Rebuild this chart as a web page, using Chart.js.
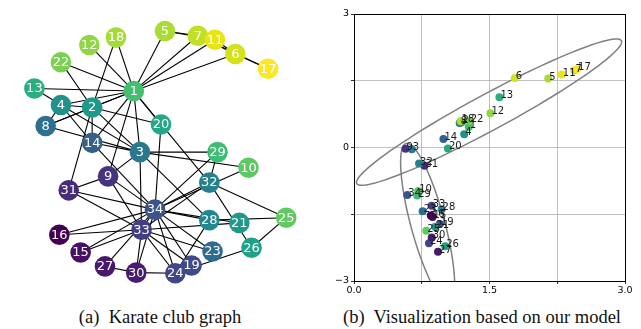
<!DOCTYPE html>
<html>
<head>
<meta charset="utf-8">
<script src="https://cdn.jsdelivr.net/npm/chart.js@4.4.0/dist/chart.umd.min.js"></script>
<style>
  body { margin: 0; background: #fff; }
  #page { position: relative; width: 641px; height: 329px; overflow: hidden; }
  .box { position: absolute; top: 0; height: 300px; }
  .caption { position: absolute; top: 307px; font-family: "Liberation Serif", "DejaVu Serif", serif; font-size: 18.5px; color: #111; text-align: center; white-space: pre; }
</style>
</head>
<body>
<div id="page">
  <div class="box" style="left:0;width:330px"><canvas id="graphe" width="330" height="300"></canvas></div>
  <div class="box" style="left:330px;width:311px"><canvas id="visu" width="311" height="300"></canvas></div>
  <div class="caption" style="left:0;width:320px">(a)  Karate club graph</div>
  <div class="caption" style="left:322px;width:320px">(b)  Visualization based on our model</div>
</div>
<script>
// noeuds 1..34
const nodes = Array.from({length: 34}, (_, i) => String(i + 1));

// positions du dessin du graphe (unites du layout, y vers le bas)
const layoutX = [131.7, 87.3, 138.3, 54, 165, 240, 200, 37.7, 104.3, 254,
  218.3, 84.3, 25.7, 87.3, 75, 52.3, 275, 112.7, 193.3, 160.7,
  244.3, 54, 215.7, 176, 294.3, 257.3, 101, 212.3, 221, 134.3,
  62.3, 212.3, 140, 154.3];
const layoutY = [86.7, 104.3, 152.3, 101.7, 22.3, 47, 27.3, 124.3, 178.3, 169,
  31.7, 37.3, 84, 142.3, 260, 241, 62.7, 29.3, 274, 122.7,
  228.3, 55.7, 259, 282.3, 222.7, 255, 275, 225.3, 152.3, 281.7,
  193.3, 185, 235.7, 214];

// plongement 2D (panneau b)
const embX = [1.27, 1.19, 0.64, 1.22, 2.15, 1.78, 2.44, 1.17, 0.57, 0.71,
  2.30, 1.51, 1.61, 0.99, 0.87, 0.85, 2.47, 1.18, 0.95, 1.04,
  0.90, 1.28, 0.76, 0.83, 0.80, 1.01, 0.93, 0.97, 0.70, 0.86,
  0.78, 0.72, 0.86, 0.59];
const embY = [0.46, 0.57, -0.04, 0.30, 1.55, 1.56, 1.73, 0.55, -0.03, -0.98,
  1.64, 0.77, 1.13, 0.19, -1.56, -1.53, 1.76, 0.59, -1.72, -0.02,
  -1.78, 0.60, -1.43, -2.15, -1.87, -2.22, -2.34, -1.39, -1.08, -2.02,
  -0.41, -0.36, -1.31, -1.07];

const nodeColors = ['#44bf70', '#1f9a8a', '#2a788e', '#21918c', '#addc30', '#d2e21b', '#c0df25', '#2d708e', '#46337f', '#5ec962',
  '#e7e419', '#90d743', '#29af7f', '#355f8d', '#471063', '#440154', '#fde725', '#a5db36', '#3f4a8a', '#22a884',
  '#1f9a8a', '#7ad151', '#2f6b8e', '#404688', '#60ca60', '#1fa187', '#48186a', '#24868e', '#3dbc74', '#481d6f',
  '#472c7a', '#26818e', '#423f85', '#3b528b'];

// aretes du club de karate
const edges = [[1,2],[1,3],[1,4],[1,5],[1,6],[1,7],[1,8],[1,9],[1,11],[1,12],[1,13],[1,14],[1,18],[1,20],[1,22],[1,32],
  [2,3],[2,4],[2,8],[2,14],[2,18],[2,20],[2,22],[2,31],
  [3,4],[3,8],[3,9],[3,10],[3,14],[3,28],[3,29],[3,33],
  [4,8],[4,13],[4,14],[5,7],[5,11],[6,7],[6,11],[6,17],[7,17],
  [9,31],[9,33],[9,34],[10,34],[14,34],[15,33],[15,34],[16,33],[16,34],
  [19,33],[19,34],[20,34],[21,33],[21,34],[23,33],[23,34],
  [24,26],[24,28],[24,30],[24,33],[24,34],[25,26],[25,28],[25,32],[26,32],
  [27,30],[27,34],[28,34],[29,32],[29,34],[30,33],[30,34],[31,33],[31,34],[32,33],[32,34],[33,34]];

// ellipses (centre, demi-axes en unites des donnees)
const ellipseCenters = [[1.495, 0.795], [0.815, -1.704]];
const ellipseMajor = [[1.465, 1.605], [0.238, -1.795]];
const ellipseMinor = [[0.0946, -0.3546], [0.181, 0.0985]];

const xTicks = ['0.0', '1.5', '3.0'];
const yTicks = ['\u22123', '0', '3'];

const aretes = {
  id: 'aretes',
  beforeDatasetsDraw(chart) {
    const {ctx, scales: {x, y}} = chart;
    ctx.save();
    ctx.strokeStyle = '#000';
    ctx.lineWidth = 1.1;
    edges.forEach(([a, b]) => {
      ctx.beginPath();
      ctx.moveTo(x.getPixelForValue(layoutX[a - 1]), y.getPixelForValue(layoutY[a - 1]));
      ctx.lineTo(x.getPixelForValue(layoutX[b - 1]), y.getPixelForValue(layoutY[b - 1]));
      ctx.stroke();
    });
    ctx.restore();
  },
  afterDatasetsDraw(chart) {
    const ctx = chart.ctx;
    const meta = chart.getDatasetMeta(0);
    ctx.save();
    ctx.fillStyle = '#fff';
    ctx.font = '13px "DejaVu Sans"';
    ctx.textAlign = 'center';
    ctx.textBaseline = 'middle';
    meta.data.forEach((pt, i) => ctx.fillText(nodes[i], pt.x, pt.y + 0.5));
    ctx.restore();
  }
};

new Chart('graphe', {
  type: 'scatter',
  data: {
    datasets: [{
      data: nodes.map((n, i) => ({x: layoutX[i], y: layoutY[i]})),
      backgroundColor: nodeColors,
      pointRadius: 10.3,
      pointHoverRadius: 10.3,
      borderWidth: 0,
      clip: false
    }]
  },
  options: {
    responsive: false,
    animation: false,
    events: [],
    layout: {padding: 0},
    plugins: {legend: {display: false}, tooltip: {enabled: false}},
    scales: {
      x: {display: false, min: 0, max: 330},
      y: {display: false, min: 0, max: 300, reverse: true}
    }
  },
  plugins: [aretes]
});

const decor = {
  id: 'decor',
  beforeDatasetsDraw(chart) {
    const {ctx, chartArea, scales: {x, y}} = chart;
    ctx.save();
    ctx.beginPath();
    ctx.rect(chartArea.left, chartArea.top, chartArea.right - chartArea.left, chartArea.bottom - chartArea.top);
    ctx.clip();
    ctx.strokeStyle = '#808080';
    ctx.lineWidth = 1.5;
    ellipseCenters.forEach((c, k) => {
      const a = ellipseMajor[k], b = ellipseMinor[k];
      ctx.beginPath();
      for (let s = 0; s <= 120; s++) {
        const t = s / 120 * 2 * Math.PI;
        const px = x.getPixelForValue(c[0] + a[0] * Math.cos(t) + b[0] * Math.sin(t));
        const py = y.getPixelForValue(c[1] + a[1] * Math.cos(t) + b[1] * Math.sin(t));
        if (s === 0) ctx.moveTo(px, py); else ctx.lineTo(px, py);
      }
      ctx.closePath();
      ctx.stroke();
    });
    ctx.restore();
  },
  afterDatasetsDraw(chart) {
    const {ctx, chartArea} = chart;
    const meta = chart.getDatasetMeta(0);
    ctx.save();
    ctx.fillStyle = '#1a1a1a';
    ctx.font = '10px "DejaVu Sans"';
    ctx.textAlign = 'left';
    ctx.textBaseline = 'alphabetic';
    meta.data.forEach((pt, i) => ctx.fillText(nodes[i], pt.x + 1, pt.y + 1));
    // cadre
    ctx.strokeStyle = '#000';
    ctx.lineWidth = 1;
    ctx.strokeRect(Math.round(chartArea.left) + 0.5, Math.round(chartArea.top) + 0.5,
      Math.round(chartArea.right - chartArea.left), Math.round(chartArea.bottom - chartArea.top));
    ctx.restore();
  }
};

new Chart('visu', {
  type: 'scatter',
  data: {
    datasets: [{
      data: nodes.map((n, i) => ({x: embX[i], y: embY[i]})),
      backgroundColor: nodeColors,
      pointRadius: 4,
      pointHoverRadius: 4,
      borderWidth: 0
    }]
  },
  options: {
    responsive: false,
    animation: false,
    events: [],
    layout: {padding: {top: 14, right: 16, bottom: 0, left: 0}},
    plugins: {legend: {display: false}, tooltip: {enabled: false}},
    scales: {
      x: {
        min: 0, max: 3,
        afterFit: (s) => { s.height = 19; },
        afterBuildTicks: (s) => { s.ticks = [0, 0.75, 1.5, 2.25, 3].map(v => ({value: v})); },
        ticks: {
          autoSkip: false, maxRotation: 0, padding: 1,
          color: '#000', font: {family: 'DejaVu Sans', size: 9.5},
          callback: (v, i) => (i % 2 === 0 ? xTicks[i / 2] : '')
        },
        grid: {color: '#b0b0b0', lineWidth: 0.8, tickLength: 3, tickColor: '#000'},
        border: {display: false}
      },
      y: {
        min: -3, max: 3,
        afterFit: (s) => { s.width = 24; },
        afterBuildTicks: (s) => { s.ticks = [-3, -1.5, 0, 1.5, 3].map(v => ({value: v})); },
        ticks: {
          autoSkip: false, padding: 2,
          color: '#000', font: {family: 'DejaVu Sans', size: 9.5},
          callback: (v, i) => (i % 2 === 0 ? yTicks[i / 2] : '')
        },
        grid: {color: '#b0b0b0', lineWidth: 0.8, tickLength: 3, tickColor: '#000'},
        border: {display: false}
      }
    }
  },
  plugins: [decor]
});
</script>
</body>
</html>
